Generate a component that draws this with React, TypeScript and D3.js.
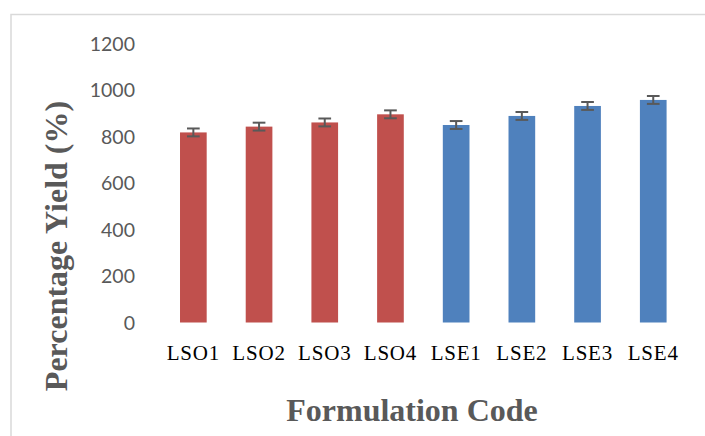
import React from "react";
import * as d3 from "d3";

const categories = ["LSO1", "LSO2", "LSO3", "LSO4", "LSE1", "LSE2", "LSE3", "LSE4"];
const values = [819, 844, 862, 897, 851, 890, 933, 959];
const errors = [17, 17, 17, 17, 17, 17, 17, 17];
const groups = ["LSO", "LSO", "LSO", "LSO", "LSE", "LSE", "LSE", "LSE"];
const yTicks = [0, 200, 400, 600, 800, 1000, 1200];

const W = 705;
const H = 436;
const colors: Record<string, string> = { LSO: "#C0504D", LSE: "#4F81BD" };

export default function App() {
  const x = d3
    .scaleBand<string>()
    .domain(categories)
    .range([160.5, 686.1])
    .paddingInner(0.594)
    .paddingOuter(0.297);
  const y = d3.scaleLinear().domain([0, 1200]).range([322.5, 44]);
  const capW = 12.7;

  return (
    <svg
      width={W}
      height={H}
      style={{ position: "absolute", left: 0, top: 0, display: "block", background: "#fff" }}
    >
      <rect x={0} y={0} width={W} height={H} fill="#fff" />
      <rect x={11} y={14.5} width={W + 20} height={H + 20} fill="none" stroke="#d9d9d9" strokeWidth={1.5} />
      {yTicks.map((t) => (
        <text
          key={t}
          x={135}
          y={y(t)}
          dy="0.36em"
          textAnchor="end"
          fontFamily="Lato, 'Open Sans', sans-serif"
          fontSize={19.5}
          fill="#595959"
        >
          {t}
        </text>
      ))}
      {categories.map((c, i) => {
        const bx = x(c)!;
        const bw = x.bandwidth();
        const cx = bx + bw / 2;
        return (
          <g key={c}>
            <rect
              x={bx}
              y={y(values[i])}
              width={bw}
              height={y(0) - y(values[i])}
              fill={colors[groups[i]]}
            />
            <line x1={cx} x2={cx} y1={y(values[i] + errors[i])} y2={y(values[i] - errors[i])} stroke="#595959" strokeWidth={2} />
            <line x1={cx - capW / 2} x2={cx + capW / 2} y1={y(values[i] + errors[i])} y2={y(values[i] + errors[i])} stroke="#595959" strokeWidth={2} />
            <line x1={cx - capW / 2} x2={cx + capW / 2} y1={y(values[i] - errors[i])} y2={y(values[i] - errors[i])} stroke="#595959" strokeWidth={2} />
            <text
              x={cx}
              y={360}
              textAnchor="middle"
              fontFamily="'Liberation Serif', 'Times New Roman', serif"
              fontSize={21}
              letterSpacing={0.8}
              fill="#000"
            >
              {c}
            </text>
          </g>
        );
      })}
      <text
        x={412}
        y={421}
        textAnchor="middle"
        fontFamily="'Liberation Serif', 'Times New Roman', serif"
        fontWeight="bold"
        fontSize={32}
        fill="#595959"
      >
        Formulation Code
      </text>
      <text
        transform={`translate(67,246) rotate(-90)`}
        textAnchor="middle"
        fontFamily="'Liberation Serif', 'Times New Roman', serif"
        fontWeight="bold"
        fontSize={32}
        fill="#595959"
      >
        Percentage Yield (%)
      </text>
    </svg>
  );
}
